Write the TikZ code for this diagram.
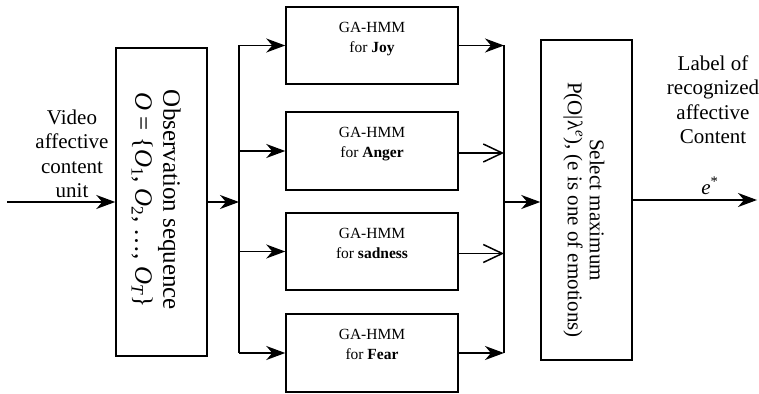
\documentclass[tikz,border=0pt]{standalone}
\usepackage{fontspec}
\setmainfont{Liberation Serif}
\usetikzlibrary{arrows.meta}
\tikzset{
  hmmbox/.style={draw, line width=1.5pt, minimum width=172pt, minimum height=77pt, inner sep=0pt},
  tallbox/.style={draw, line width=1.5pt, minimum width=91pt, inner sep=0pt},
  conn/.style={line width=1.5pt},
  fillarrow/.style={conn, -{Stealth[length=19pt,width=14pt,inset=6pt]}},
  openarrow/.style={conn, -{Straight Barb[length=19pt,width=18pt,line width=1.5pt]}},
  bigtxt/.style={font=\fontsize{21}{24.5}\selectfont, align=center, inner sep=0pt},
  hmmtxt/.style={font=\fontsize{15.5}{20}\selectfont, align=center, inner sep=0pt}
}
\begin{document}
\begin{tikzpicture}[x=1pt,y=-1pt]
\useasboundingbox (0,0) rectangle (759,393);
% boxes
\node[tallbox, minimum height=308pt] (obs) at (161.5,202) {};
\node[tallbox, minimum height=320pt] (sel) at (586.5,200) {};
\node[hmmbox] (joy) at (372,45.5) {};
\node[hmmbox, minimum height=78pt] (anger) at (372,151) {};
\node[hmmbox] (sad) at (372,251.5) {};
\node[hmmbox, minimum height=78pt] (fear) at (372,353) {};
% box texts
\node[hmmtxt, anchor=north] (tjoy) at ([yshift=-16pt]joy.north) {GA-HMM\\for \textbf{Joy}};
\node[hmmtxt, anchor=north] (tanger) at ([yshift=-16pt]anger.north) {GA-HMM\\for \textbf{Anger}};
\node[hmmtxt, anchor=north] (tsad) at ([yshift=-16pt]sad.north) {GA-HMM\\for \textbf{sadness}};
\node[hmmtxt, anchor=north] (tfear) at ([yshift=-16pt]fear.north) {GA-HMM\\for \textbf{Fear}};
\node[bigtxt, rotate=-90, font=\fontsize{25}{28}\selectfont] (tobs) at (156,200)
  {Observation sequence\\\textit{O} = \{\textit{O}\textsubscript{1}, \textit{O}\textsubscript{2}, \dots, \textit{O}\textsubscript{\textit{T}}\}};
\node[bigtxt, rotate=-90, font=\fontsize{21}{22}\selectfont] (tsel) at (584,210)
  {Select maximum\\P(O|λ\textsuperscript{\textit{e}}), (e is one of emotions)};
% outer labels
\node[bigtxt] (vlabel) at (72,154) {Video\\affective\\content\\unit};
\node[bigtxt] (olabel) at (713,99.5) {Label of\\recognized\\affective\\Content};
\node[bigtxt] (estar) at (710,186) {\textit{e}\textsuperscript{*}};
% coordinates
\coordinate (in) at (7,202);
\coordinate (lbus) at (239,0);
\coordinate (rbus) at (504,0);
\coordinate (rmid) at (504,202);
\coordinate (out) at (757,200);
% connectors
\draw[fillarrow] (in) -- (obs.west);
\draw[fillarrow] (obs.east) -- (obs.east -| lbus);
\draw[conn] (lbus |- joy.west) -- (lbus |- fear.west);
\draw[fillarrow] (lbus |- joy.west) -- (joy.west);
\draw[fillarrow] (lbus |- anger.west) -- (anger.west);
\draw[fillarrow] (lbus |- sad.west) -- (sad.west);
\draw[fillarrow] (lbus |- fear.west) -- (fear.west);
\draw[fillarrow] (joy.east) -- (joy.east -| rbus);
\draw[openarrow] ([yshift=-2pt]anger.east) -- ([yshift=-2pt]anger.east -| rbus);
\draw[openarrow] ([yshift=-2pt]sad.east) -- ([yshift=-2pt]sad.east -| rbus);
\draw[fillarrow] (fear.east) -- (fear.east -| rbus);
\draw[conn] (rbus |- joy.east) -- (rbus |- fear.east);
\draw[fillarrow] (rmid) -- (rmid -| sel.west);
\draw[fillarrow] (sel.east) -- (out);
\end{tikzpicture}
\end{document}
